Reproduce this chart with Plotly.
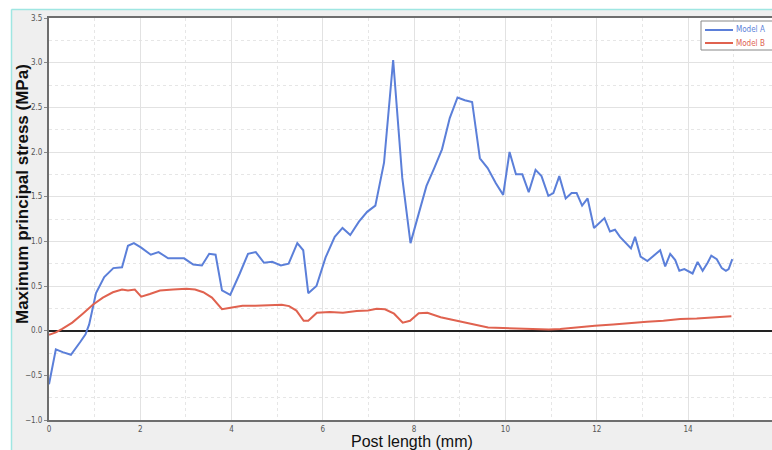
import plotly.graph_objects as go

# Post length (mm) and maximum principal stress (MPa) for the two models
model_a_x = [0.00, 0.15, 0.30, 0.48, 0.68, 0.80, 0.88, 1.03, 1.21, 1.41, 1.60, 1.73, 1.86,
             2.02, 2.23, 2.40, 2.61, 2.96, 3.16, 3.35, 3.51, 3.65, 3.79, 3.97, 4.18, 4.36,
             4.53, 4.71, 4.89, 5.08, 5.25, 5.44, 5.57, 5.68, 5.86, 6.06, 6.26, 6.43, 6.60,
             6.79, 6.97, 7.15, 7.34, 7.54, 7.74, 7.92, 8.10, 8.27, 8.44, 8.61, 8.78, 8.95,
             9.11, 9.27, 9.44, 9.61, 9.79, 9.95, 10.09, 10.23, 10.37, 10.51, 10.66, 10.79,
             10.94, 11.05, 11.18, 11.32, 11.45, 11.56, 11.68, 11.80, 11.94, 12.06, 12.17,
             12.29, 12.40, 12.51, 12.64, 12.75, 12.84, 12.96, 13.11, 13.23, 13.39, 13.50,
             13.61, 13.72, 13.81, 13.92, 14.10, 14.21, 14.32, 14.43, 14.51, 14.63, 14.74,
             14.83, 14.89, 14.97]
model_a_y = [-0.60, -0.21, -0.24, -0.27, -0.13, -0.04, 0.07, 0.42, 0.60, 0.70, 0.71, 0.95, 0.98,
             0.93, 0.85, 0.88, 0.81, 0.81, 0.74, 0.73, 0.86, 0.85, 0.45, 0.40, 0.64, 0.86,
             0.88, 0.76, 0.77, 0.73, 0.75, 0.98, 0.90, 0.42, 0.50, 0.82, 1.05, 1.15, 1.07,
             1.22, 1.33, 1.40, 1.88, 3.03, 1.71, 0.98, 1.31, 1.62, 1.82, 2.03, 2.38, 2.61,
             2.58, 2.56, 1.93, 1.82, 1.65, 1.52, 2.00, 1.75, 1.75, 1.55, 1.80, 1.73,
             1.51, 1.54, 1.73, 1.48, 1.54, 1.54, 1.40, 1.48, 1.15, 1.21, 1.26,
             1.11, 1.13, 1.05, 0.98, 0.92, 1.05, 0.83, 0.78, 0.83, 0.90, 0.72,
             0.86, 0.79, 0.67, 0.69, 0.64, 0.77, 0.67, 0.76, 0.84, 0.80, 0.70,
             0.67, 0.69, 0.80]

model_b_x = [0.00, 0.15, 0.29, 0.51, 0.74, 0.96, 1.18, 1.40, 1.60, 1.73, 1.88, 2.02, 2.21,
             2.43, 2.72, 3.01, 3.20, 3.38, 3.57, 3.79, 4.01, 4.24, 4.52, 4.85, 5.10, 5.26,
             5.42, 5.58, 5.68, 5.87, 6.15, 6.44, 6.74, 6.99, 7.18, 7.36, 7.56, 7.75, 7.91,
             8.10, 8.29, 8.58, 8.91, 9.15, 9.40, 9.62, 9.95, 10.30, 10.60, 10.95, 11.20,
             11.63, 11.96, 12.36, 12.73, 13.10, 13.46, 13.83, 14.19, 14.56, 14.95]
model_b_y = [-0.045, -0.02, 0.02, 0.09, 0.19, 0.29, 0.37, 0.43, 0.46, 0.45, 0.46, 0.38, 0.41,
             0.45, 0.46, 0.47, 0.46, 0.43, 0.37, 0.24, 0.26, 0.28, 0.28, 0.29, 0.29, 0.275,
             0.225, 0.11, 0.11, 0.20, 0.21, 0.20, 0.22, 0.225, 0.245, 0.24, 0.19, 0.09, 0.11,
             0.195, 0.20, 0.15, 0.115, 0.09, 0.065, 0.035, 0.03, 0.022, 0.015, 0.012, 0.02,
             0.045, 0.056, 0.07, 0.087, 0.10, 0.11, 0.13, 0.135, 0.145, 0.16]

series_names = ["Model A", "Model B"]
series_colors = ["#5b7fd9", "#e0624f"]

W, H = 772, 450
ML, MR, MT, MB = 49, 0, 18, 30
PW, PH = W - ML - MR, H - MT - MB


def px_x(p):
    return (p - ML) / PW


def px_y(p):
    return (H - MB - p) / PH


narrow = "DejaVu Sans Condensed, Liberation Sans Narrow, Arial Narrow, sans-serif"

fig = go.Figure()
for xs, ys, name, color in [(model_a_x, model_a_y, series_names[0], series_colors[0]),
                            (model_b_x, model_b_y, series_names[1], series_colors[1])]:
    fig.add_trace(go.Scatter(
        x=xs, y=ys, mode="lines", name=name, showlegend=False,
        line=dict(color=color, width=2),
    ))

tick_font = dict(family=narrow, size=8, color="#555555")

# legend box drawn as a compact framed key in the top-right corner
legend_shapes = [
    dict(type="rect", xref="paper", yref="paper", x0=px_x(701), x1=px_x(W + 5),
         y0=px_y(50), y1=px_y(21), fillcolor="white", line=dict(color="#888888", width=1),
         layer="above"),
]
legend_notes = []
for i, (name, color) in enumerate(zip(series_names, series_colors)):
    yy = 30 + 13 * i
    legend_shapes.append(dict(type="line", xref="paper", yref="paper",
                              x0=px_x(705), x1=px_x(733), y0=px_y(yy), y1=px_y(yy),
                              line=dict(color=color, width=2), layer="above"))
    legend_notes.append(dict(text=name, xref="paper", yref="paper", x=px_x(734), y=px_y(yy),
                             xanchor="left", yanchor="middle", showarrow=False,
                             font=dict(family=narrow, size=8, color=color)))

fig.update_layout(
    width=W, height=H,
    margin=dict(l=ML, r=MR, t=MT, b=MB),
    paper_bgcolor="#efefef",
    plot_bgcolor="white",
    showlegend=False,
    xaxis=dict(
        range=[0, 15.84], dtick=2, tick0=0,
        showgrid=True, gridcolor="#e2e2e2", gridwidth=1,
        minor=dict(dtick=1, showgrid=True, gridcolor="#e6e6e6", griddash="dot"),
        showline=True, linecolor="#6e6e6e", linewidth=2, mirror=True,
        ticks="", ticklen=0,
        tickfont=tick_font, zeroline=False,
    ),
    yaxis=dict(
        range=[-1.0, 3.5], dtick=0.5, tick0=0, tickformat=".1f",
        showgrid=True, gridcolor="#e2e2e2", gridwidth=1,
        minor=dict(dtick=0.25, showgrid=True, gridcolor="#e6e6e6", griddash="dot"),
        showline=True, linecolor="#6e6e6e", linewidth=2,
        ticks="outside", ticklen=3, tickcolor="#888888",
        tickfont=tick_font,
        zeroline=True, zerolinecolor="#222222", zerolinewidth=1.5,
    ),
    shapes=[
        # white outer strips and light-cyan frame around the chart panel
        dict(type="rect", xref="paper", yref="paper", x0=px_x(0), x1=px_x(11), y0=px_y(H), y1=px_y(0),
             fillcolor="white", line=dict(width=0), layer="above"),
        dict(type="rect", xref="paper", yref="paper", x0=px_x(0), x1=px_x(W), y0=px_y(9), y1=px_y(0),
             fillcolor="white", line=dict(width=0), layer="above"),
        dict(type="line", xref="paper", yref="paper", x0=px_x(11.5), x1=px_x(11.5), y0=px_y(H), y1=px_y(9.5),
             line=dict(color="#9fe6e2", width=1.5), layer="above"),
        dict(type="line", xref="paper", yref="paper", x0=px_x(11.5), x1=px_x(W), y0=px_y(9.5), y1=px_y(9.5),
             line=dict(color="#9fe6e2", width=1.5), layer="above"),
    ] + legend_shapes,
    annotations=[
        dict(text="<b>Maximum principal stress (MPa)</b>", xref="paper", yref="paper",
             x=px_x(22), y=px_y(194), textangle=-90, showarrow=False,
             font=dict(family="Liberation Sans, Arial, sans-serif", size=17, color="#111111"),
             xanchor="center", yanchor="middle"),
        dict(text="Post length (mm)", xref="paper", yref="paper",
             x=px_x(412), y=px_y(441), showarrow=False, borderpad=0,
             font=dict(family="Liberation Sans, Arial, sans-serif", size=16, color="#111111"),
             xanchor="center", yanchor="middle"),
    ] + legend_notes,
)

fig.write_html("out.html")
